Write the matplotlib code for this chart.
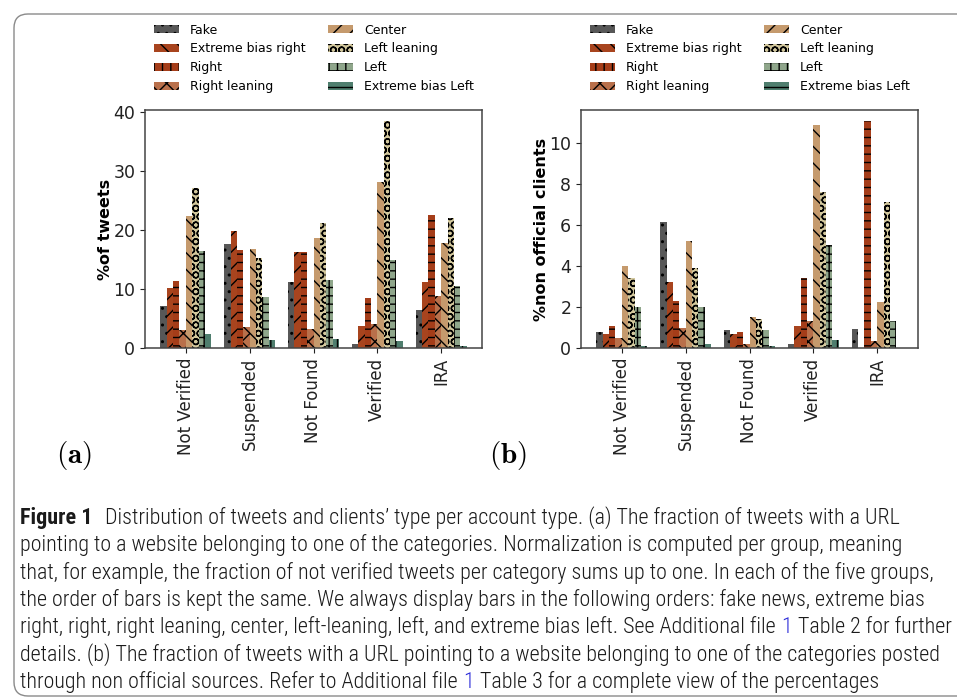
import matplotlib
matplotlib.use('Agg')
import matplotlib.pyplot as plt
from matplotlib.patches import Patch, FancyBboxPatch
from matplotlib import font_manager
import numpy as np

W, H = 957, 700

groups = ['Not Verified', 'Suspended', 'Not Found', 'Verified', 'IRA']
categories = ['Fake', 'Extreme bias right', 'Right', 'Right leaning',
              'Center', 'Left leaning', 'Left', 'Extreme bias Left']

# (a) % of tweets, per category, in group order
tw_fake = [7.2, 17.6, 11.2, 0.7, 6.5]
tw_ebr = [10.1, 19.8, 16.3, 3.8, 11.2]
tw_right = [11.4, 16.6, 16.3, 8.5, 22.5]
tw_rl = [3.1, 3.5, 3.3, 4.1, 8.8]
tw_center = [22.4, 16.8, 18.6, 28.1, 17.8]
tw_ll = [27.1, 15.3, 21.2, 38.4, 22.0]
tw_left = [16.4, 8.7, 11.5, 14.9, 10.5]
tw_ebl = [2.3, 1.35, 1.5, 1.25, 0.4]

# (b) % non official clients
cl_fake = [0.79, 6.12, 0.89, 0.21, 0.94]
cl_ebr = [0.70, 3.22, 0.70, 1.08, 0.0]
cl_right = [1.08, 2.30, 0.79, 3.41, 11.04]
cl_rl = [0.50, 0.99, 0.21, 1.33, 0.36]
cl_center = [4.0, 5.21, 1.52, 10.84, 2.25]
cl_ll = [3.41, 3.9, 1.42, 7.59, 7.1]
cl_left = [2.0, 2.0, 0.89, 5.02, 1.33]
cl_ebl = [0.11, 0.21, 0.11, 0.40, 0.0]

tweets = [tw_fake, tw_ebr, tw_right, tw_rl, tw_center, tw_ll, tw_left, tw_ebl]
clients = [cl_fake, cl_ebr, cl_right, cl_rl, cl_center, cl_ll, cl_left, cl_ebl]

colors = ['#575757', '#a8441e', '#a53d19', '#b9704b',
          '#c59a6d', '#d3c89d', '#8fa68b', '#4f7e6e']
bar_hatches = ['..', '//', '--', 'xx', '\\\\', 'OO', '++', '||']
legend_hatches = ['..', '\\\\', '||', 'xx', '//', 'OO', '++', '--']

caption_lines = [
    [('Figure 1', 'bold'), ('Distribution of tweets and clients\u2019 type per account type. (a) The fraction of tweets with a URL', None)],
    [('pointing to a website belonging to one of the categories. Normalization is computed per group, meaning', None)],
    [('that, for example, the fraction of not verified tweets per category sums up to one. In each of the five groups,', None)],
    [('the order of bars is kept the same. We always display bars in the following orders: fake news, extreme bias', None)],
    [('right, right, right leaning, center, left-leaning, left, and extreme bias left. See Additional file', None),
     ('1', 'blue'), ('Table 2 for further', None)],
    [('details. (b) The fraction of tweets with a URL pointing to a website belonging to one of the categories posted', None)],
    [('through non official sources. Refer to Additional file', None), ('1', 'blue'),
     ('Table 3 for a complete view of the percentages', None)],
]

plt.rcParams['mathtext.fontset'] = 'cm'
plt.rcParams['hatch.linewidth'] = 1.0

fig = plt.figure(figsize=(W / 100, H / 100), dpi=100)
bg = fig.add_axes([0, 0, 1, 1], zorder=-1)
bg.set_xlim(0, W)
bg.set_ylim(H, 0)
bg.axis('off')

frame = FancyBboxPatch((14, 14), 960, 682, boxstyle='round,pad=0,rounding_size=14',
                       facecolor='white', edgecolor='#8a8a8a', linewidth=1.0)
bg.add_patch(frame)


def draw_panel(left, data, ylabel):
    ax = fig.add_axes([left / W, 1 - 348 / H, 337 / W, 238 / H])
    x = np.arange(len(groups))
    w = 0.1
    for i, vals in enumerate(data):
        ax.bar(x + (i - 3.5) * w, vals, w, color=colors[i], hatch=bar_hatches[i],
               edgecolor='black', linewidth=0)
    ax.set_xticks(x)
    ax.set_xticklabels(groups, rotation=90, fontsize=12)
    ax.tick_params(axis='y', labelsize=12.5, colors='#222222')
    ax.tick_params(axis='x', colors='#222222')
    for s in ax.spines.values():
        s.set_color('#444444')
        s.set_linewidth(1.1)
    ax.set_ylabel(ylabel, fontsize=11.5, fontweight='bold', labelpad=0)
    return ax


ax_a = draw_panel(145, tweets, '%of tweets')
ax_b = draw_panel(581, clients, '%non official clients')

handles = [Patch(facecolor=c, hatch=h, edgecolor='black', linewidth=0)
           for c, h in zip(colors, legend_hatches)]
for lx in (154, 590):
    fig.legend(handles, categories, loc='upper left',
               bbox_to_anchor=(lx / W, 1 - 23.5 / H), ncol=2, frameon=False,
               fontsize=9, borderpad=0, borderaxespad=0, handlelength=2.0,
               handleheight=0.65, handletextpad=0.85, columnspacing=1.85,
               labelspacing=0.47)

bg.text(74, 456, r'$\mathbf{(a)}$', fontsize=21, ha='center', va='center')
bg.text(508, 456, r'$\mathbf{(b)}$', fontsize=21, ha='center', va='center')

# caption font
names = {f.name for f in font_manager.fontManager.ttflist}
cap_font = 'Liberation Sans'
for cand in ['Roboto Condensed', 'Liberation Sans Narrow', 'Open Sans Condensed']:
    if cand in names:
        cap_font = cand
        break
cap_weight = 'light'

renderer = fig.canvas.get_renderer()
probe = bg.text(0, 0, ''.join(p[0] for p in caption_lines[4]).replace('file1', 'file 1 '),
                fontsize=12, family=cap_font, fontweight=cap_weight)
pw = probe.get_window_extent(renderer).width
probe.remove()
cap_size = 12 * (933 / pw)
gap = cap_size * 0.26

y0 = 524
for k, line in enumerate(caption_lines):
    y = y0 + k * 27.3
    prev = None
    for j, (s, kind) in enumerate(line):
        kw = dict(fontsize=cap_size, family=cap_font, va='baseline', ha='left',
                  fontweight=cap_weight, color='#1a1a1a')
        if kind == 'bold':
            kw['fontweight'] = 'bold'
        if kind == 'blue':
            kw['color'] = '#2a2ad8'
        if prev is None:
            prev = bg.text(20, y, s, **kw)
        else:
            off = gap * (2.2 if line[j - 1][1] == 'bold' else 1)
            prev = bg.annotate(s, xy=(1, 0), xycoords=prev, xytext=(off, 0),
                               textcoords='offset points', **{**kw, 'va': 'bottom'})

fig.savefig('out.png', dpi=100)
